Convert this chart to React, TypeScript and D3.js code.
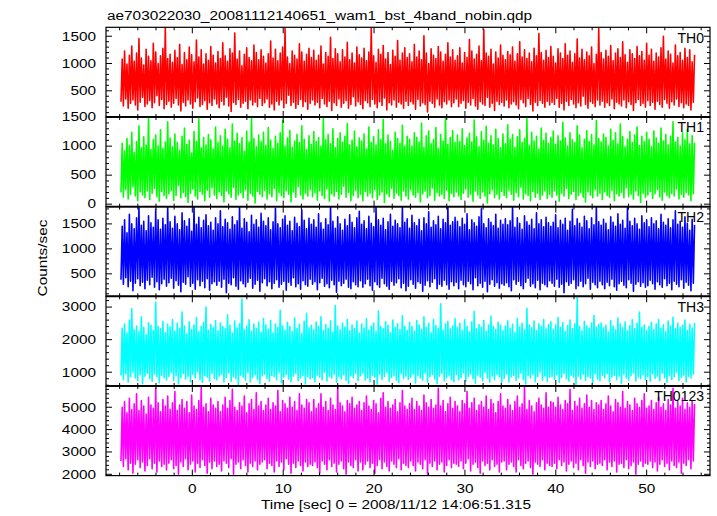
import React from "react";
import * as d3 from "d3";

const TITLE = "ae703022030_20081112140651_wam1_bst_4band_nobin.qdp";
const X_LABEL = "Time [sec] 0 = 2008/11/12 14:06:51.315";
const Y_LABEL = "Counts/sec";
const X_DOMAIN = [-9.5, 56.97];
const X_TICK_LABELS = [0, 10, 20, 30, 40, 50];
const T_START = -7.85;
const T_END = 55.4;
const BAND_NAMES = ["TH0", "TH1", "TH2", "TH3", "TH0123"];
const BAND_COLORS = ["#ff0000", "#00ff00", "#0000ff", "#00ffff", "#ff00ff"];
const Y_DOMAINS = [[20, 1664], [-42, 1503], [50, 1846], [578, 3332], [1942, 5954]];
const Y_TICK_LABELS = [[500, 1000, 1500], [0, 500, 1000, 1500], [500, 1000, 1500], [1000, 2000, 3000], [2000, 3000, 4000, 5000]];
const Y_MAJOR = [500, 500, 500, 1000, 1000];
const Y_MINOR = [100, 100, 100, 200, 200];

// Upper / lower excursions of each light curve per time bin
const TH0_HI = [
  1080, 1230, 990, 1150, 1320, 1040, 1190, 1460, 1100, 970, 1260, 1130, 1050, 1370, 1210, 1000, 1140, 1280, 1660, 1090,
  1170, 1020, 1240, 1110, 1350, 980, 1200, 1070, 1300, 1160, 1030, 1430, 1120, 1250, 990, 1180, 1060, 1310, 1150, 1010,
  1220, 1090, 1380, 1140, 1040, 1270, 1190, 1560, 1080, 1230, 960, 1170, 1290, 1110, 1050, 1340, 1200, 1070, 1250, 1130,
  1010, 1180, 1410, 1100, 1260, 1050, 1190, 1300, 1640, 1120, 1000, 1230, 1150, 1080, 1360, 1210, 1040, 1170, 1280, 1110,
  1240, 1060, 1150, 1320, 990, 1200, 1130, 1480, 1090, 1270, 1180, 1030, 1250, 1120, 1390, 1070, 1190, 1010, 1300, 1160,
  1100, 1280, 1050, 1210, 1650, 1140, 1020, 1260, 1170, 1330, 1080, 1200, 980, 1240, 1130, 1420, 1060, 1190, 1290, 1110,
  1180, 1030, 1350, 1120, 1230, 1070, 1510, 1190, 1000, 1270, 1150, 1090, 1310, 1210, 1040, 1170, 1380, 1120, 1250, 1060,
  1140, 1290, 1010, 1200, 1110, 1440, 1230, 1080, 1170, 1320, 1050, 1620, 1190, 1130, 1260, 990, 1210, 1100, 1340, 1150,
  1070, 1220, 1160, 1300, 1040, 1180, 1400, 1120, 1250, 1090, 1190, 1030, 1280, 1140, 1550, 1200, 1060, 1240, 1110, 1310,
  1130, 1010, 1270, 1190, 1090, 1360, 1150, 1230, 1020, 1180, 1450, 1100, 1260, 1070, 1210, 1140, 1300, 1000, 1170, 1640,
  1200, 1080, 1240, 1130, 1330, 1050, 1190, 1270, 1110, 1400, 1160, 1020, 1250, 1180, 1090, 1310, 1140, 1220, 1060, 1370,
  1150, 1260, 1040, 1190, 1120, 1290, 1500, 1080, 1230, 1170, 1010, 1340, 1140, 1200, 1060, 1280, 1110, 1250, 1030, 1160,
];
const TH0_LO = [
  300, 220, 350, 180, 270, 330, 240, 150, 290, 380, 210, 260, 320, 190, 280, 410, 230, 340, 170, 250,
  310, 200, 270, 360, 240, 130, 290, 220, 330, 260, 180, 300, 370, 210, 250, 320, 160, 280, 230, 350,
  260, 190, 310, 240, 380, 220, 120, 290, 250, 340, 200, 270, 310, 170, 330, 240, 290, 210, 360, 230,
  280, 350, 200, 260, 150, 310, 240, 330, 190, 270, 420, 230, 290, 180, 250, 340, 210, 300, 160, 270,
  330, 240, 290, 190, 360, 260, 210, 310, 140, 280, 230, 350, 200, 270, 320, 180, 250, 390, 220, 300,
  250, 170, 320, 280, 210, 340, 260, 190, 300, 230, 370, 150, 280, 240, 330, 200, 290, 260, 180, 310,
  230, 300, 260, 160, 340, 220, 280, 250, 110, 310, 270, 200, 350, 240, 190, 300, 260, 330, 210, 280,
  350, 210, 270, 320, 180, 290, 240, 360, 220, 160, 300, 260, 230, 380, 200, 270, 140, 310, 250, 290,
  220, 330, 190, 260, 300, 240, 170, 340, 280, 210, 360, 250, 130, 290, 230, 320, 270, 200, 310, 240,
  290, 250, 360, 200, 270, 150, 310, 230, 340, 260, 190, 280, 220, 400, 250, 180, 300, 270, 210, 330,
  240, 310, 200, 280, 230, 350, 170, 290, 260, 220, 330, 190, 300, 250, 140, 280, 340, 230, 270, 200,
  320, 230, 290, 160, 310, 250, 200, 340, 270, 180, 300, 240, 350, 210, 280, 190, 260, 230, 150, 290,
];

const TH1_HI = [
  1050, 920, 1130, 1010, 1240, 890, 1080, 1350, 970, 1160, 1020, 1500, 940, 1110, 1190, 1000, 1280, 960, 1070, 1420,
  1140, 990, 1210, 1060, 930, 1170, 1310, 1030, 1100, 880, 1250, 1080, 1470, 970, 1150, 1020, 1200, 1110, 950, 1330,
  1060, 1180, 1000, 1290, 1120, 970, 1380, 1090, 1220, 1040, 1150, 910, 1260, 1070, 1500, 1130, 990, 1190, 1080, 1240,
  1010, 1320, 1100, 960, 1170, 1050, 1230, 1440, 1000, 1140, 1270, 980, 1090, 1200, 1060, 1350, 1120, 940, 1180, 1030,
  1250, 1080, 1150, 1000, 1490, 1110, 1200, 1040, 1300, 970, 1130, 1230, 1070, 1170, 1390, 1020, 1100, 1260, 990, 1140,
  1090, 1210, 950, 1330, 1060, 1160, 1020, 1280, 1110, 1460, 1040, 1190, 1080, 930, 1240, 1130, 1050, 1360, 1000, 1170,
  1120, 1000, 1230, 1150, 1070, 1400, 980, 1180, 1260, 1040, 1110, 1320, 960, 1200, 1090, 1500, 1030, 1150, 1270, 1060,
  1190, 1080, 1300, 1010, 1140, 1220, 1070, 1450, 1160, 990, 1250, 1100, 1340, 1050, 1180, 1020, 1290, 1130, 970, 1210,
  1040, 1370, 1120, 1200, 980, 1160, 1280, 1060, 1130, 1480, 1010, 1240, 1090, 1170, 950, 1310, 1100, 1220, 1050, 1150,
  1260, 1030, 1180, 1090, 1410, 1140, 1000, 1230, 1110, 1060, 1350, 1190, 970, 1120, 1270, 1080, 1200, 1020, 1440, 1130,
  1070, 1210, 1150, 1000, 1290, 1100, 1230, 1040, 1380, 1160, 990, 1120, 1250, 1060, 1190, 1330, 1010, 1170, 1080, 1240,
  1120, 990, 1260, 1140, 1050, 1310, 1090, 1200, 1020, 1170, 1420, 1070, 1150, 1000, 1230, 1110, 1290, 1040, 1180, 1060,
];
const TH1_LO = [
  200, 120, 250, 90, 170, 300, 140, 60, 210, 160, 110, 230, 80, 190, 270, 130, 50, 220, 150, 100,
  180, 240, 70, 150, 320, 110, 200, 130, 30, 190, 260, 140, 90, 220, 170, 60, 240, 120, 280, 160,
  100, 210, 150, 40, 230, 180, 120, 290, 80, 160, 200, 110, 250, 70, 190, 140, 20, 220, 170, 130,
  240, 90, 180, 130, 270, 60, 200, 150, 110, 230, 170, 40, 210, 120, 300, 160, 90, 190, 140, 250,
  130, 200, 70, 230, 150, 100, 260, 50, 180, 140, 220, 90, 170, 310, 120, 200, 60, 150, 240, 110,
  170, 60, 220, 140, 190, 110, 250, 80, 160, 210, 30, 180, 130, 270, 100, 190, 150, 70, 230, 140,
  90, 250, 160, 120, 200, 40, 180, 230, 110, 150, 280, 70, 200, 140, 170, 100, 240, 60, 190, 130,
  210, 140, 80, 190, 260, 120, 170, 50, 230, 160, 100, 210, 140, 20, 180, 250, 110, 170, 90, 220,
  150, 110, 240, 170, 70, 200, 130, 290, 90, 180, 150, 60, 220, 120, 190, 80, 160, 230, 100, 170,
  120, 230, 160, 50, 190, 140, 270, 100, 170, 220, 80, 150, 200, 120, 40, 210, 160, 110, 250, 140,
  190, 80, 210, 150, 120, 240, 60, 180, 140, 200, 110, 280, 130, 170, 90, 230, 150, 30, 190, 120,
  160, 220, 100, 180, 250, 130, 70, 210, 150, 110, 190, 140, 260, 90, 170, 120, 200, 160, 60, 180,
];

const TH2_HI = [
  1450, 1580, 1320, 1690, 1500, 1400, 1620, 1840, 1470, 1550, 1360, 1660, 1520, 1430, 1790, 1580, 1390, 1610, 1480, 1850,
  1540, 1410, 1650, 1500, 1380, 1720, 1560, 1450, 1600, 1350, 1850, 1490, 1630, 1420, 1570, 1680, 1460, 1530, 1370, 1620,
  1500, 1760, 1440, 1590, 1520, 1390, 1640, 1480, 1560, 1850, 1410, 1600, 1530, 1340, 1670, 1490, 1580, 1430, 1710, 1550,
  1460, 1620, 1380, 1540, 1810, 1500, 1420, 1590, 1660, 1470, 1550, 1360, 1630, 1510, 1440, 1780, 1570, 1400, 1610, 1490,
  1580, 1430, 1700, 1520, 1390, 1600, 1480, 1850, 1550, 1410, 1640, 1500, 1370, 1590, 1460, 1680, 1530, 1420, 1620, 1750,
  1490, 1560, 1400, 1650, 1510, 1440, 1830, 1580, 1470, 1610, 1380, 1540, 1690, 1450, 1570, 1500, 1420, 1850, 1530, 1600,
  1410, 1670, 1520, 1460, 1590, 1360, 1620, 1500, 1740, 1430, 1560, 1480, 1650, 1400, 1590, 1520, 1850, 1470, 1540, 1630,
  1550, 1440, 1610, 1490, 1700, 1380, 1580, 1520, 1450, 1640, 1800, 1500, 1420, 1600, 1530, 1460, 1690, 1410, 1570, 1490,
  1600, 1480, 1560, 1850, 1430, 1620, 1510, 1390, 1660, 1540, 1470, 1590, 1400, 1720, 1500, 1580, 1440, 1630, 1520, 1450,
  1530, 1680, 1420, 1570, 1490, 1610, 1370, 1550, 1790, 1460, 1600, 1510, 1430, 1650, 1560, 1400, 1620, 1480, 1850, 1540,
  1470, 1590, 1510, 1380, 1640, 1530, 1450, 1700, 1490, 1570, 1410, 1830, 1550, 1460, 1610, 1500, 1390, 1660, 1520, 1580,
  1440, 1620, 1500, 1560, 1400, 1690, 1530, 1470, 1600, 1420, 1580, 1760, 1490, 1550, 1430, 1640, 1510, 1370, 1590, 1480,
];
const TH2_LO = [
  380, 290, 420, 240, 350, 160, 310, 400, 260, 330, 200, 370, 280, 430, 230, 340, 180, 300, 390, 250,
  320, 410, 210, 360, 270, 140, 330, 290, 440, 250, 310, 190, 380, 260, 350, 220, 400, 170, 300, 340,
  270, 350, 230, 390, 120, 310, 280, 420, 250, 190, 360, 300, 240, 330, 410, 210, 290, 370, 150, 320,
  400, 260, 340, 200, 310, 380, 230, 290, 350, 170, 330, 270, 420, 240, 300, 190, 360, 280, 250, 390,
  290, 340, 180, 320, 410, 250, 300, 220, 370, 280, 130, 350, 260, 310, 390, 230, 200, 340, 280, 240,
  360, 230, 300, 390, 260, 170, 340, 280, 230, 410, 300, 250, 190, 350, 270, 320, 400, 220, 310, 160,
  250, 380, 290, 210, 340, 310, 150, 270, 360, 240, 330, 400, 200, 290, 250, 370, 280, 190, 340, 260,
  330, 200, 370, 280, 240, 350, 300, 180, 420, 260, 310, 230, 350, 140, 290, 380, 250, 320, 210, 300,
  270, 320, 240, 160, 380, 290, 350, 260, 200, 330, 410, 250, 300, 220, 370, 180, 310, 280, 240, 360,
  310, 250, 390, 230, 290, 120, 340, 270, 310, 380, 200, 260, 350, 240, 300, 410, 190, 330, 280, 220,
  350, 280, 200, 330, 260, 390, 240, 170, 300, 350, 270, 220, 380, 310, 150, 290, 340, 250, 320, 230,
  260, 370, 300, 190, 340, 280, 230, 400, 260, 310, 180, 350, 290, 240, 380, 210, 330, 270, 160, 310,
];

const TH3_HI = [
  2350, 2480, 2200, 2600, 2950, 2300, 2420, 2250, 2700, 2380, 2150, 2520, 2440, 2280, 3150, 2400, 2330, 2560, 2210, 2470,
  2390, 2620, 2260, 2500, 2340, 2850, 2420, 2180, 2550, 2310, 2450, 2680, 2240, 2400, 2530, 3000, 2290, 2460, 2370, 2580,
  2270, 2510, 2400, 2330, 2760, 2440, 2200, 2570, 2360, 2490, 3250, 2300, 2420, 2610, 2260, 2480, 2350, 2540, 2230, 2650,
  2450, 2320, 2590, 2210, 2480, 2380, 2900, 2420, 2290, 2530, 2400, 2250, 2660, 2340, 2470, 2190, 2560, 2800, 2360, 2440,
  2310, 2540, 2400, 2700, 2280, 2460, 2350, 2580, 2230, 3050, 2420, 2300, 2510, 2390, 2620, 2270, 2450, 2340, 2570, 2200,
  2480, 2360, 2640, 2290, 2420, 2510, 2250, 2880, 2400, 2330, 2550, 2440, 2220, 2600, 2370, 2490, 2310, 2730, 2410, 2280,
  2530, 2400, 2260, 2590, 2450, 2320, 2700, 2380, 2500, 2210, 2620, 2430, 2350, 3100, 2290, 2480, 2560, 2330, 2420, 2640,
  2370, 2500, 2290, 2610, 2410, 2240, 2550, 2860, 2330, 2460, 2380, 2590, 2260, 2450, 2720, 2400, 2310, 2530, 2440, 2280,
  2420, 2580, 2340, 2470, 2210, 2650, 2390, 2500, 2300, 2960, 2450, 2360, 2570, 2280, 2490, 2410, 2620, 2330, 2460, 2550,
  2300, 2450, 2680, 2380, 2520, 2250, 2430, 2600, 2340, 2490, 3300, 2400, 2270, 2560, 2420, 2350, 2510, 2740, 2390, 2460,
  2510, 2370, 2440, 2230, 2590, 2420, 2300, 2660, 2480, 2360, 2540, 2270, 2430, 2610, 2340, 2500, 2850, 2380, 2450, 2290,
  2400, 2530, 2310, 2480, 2620, 2350, 2460, 2240, 2570, 2420, 2690, 2330, 2500, 2380, 2440, 2600, 2290, 2470, 2360, 2520,
];
const TH3_LO = [
  900, 780, 950, 700, 860, 1000, 820, 740, 920, 650, 880, 970, 800, 720, 940, 860, 680, 910, 830, 760,
  870, 990, 750, 900, 640, 830, 960, 790, 880, 710, 940, 820, 1010, 770, 690, 900, 850, 730, 960, 810,
  760, 880, 930, 700, 840, 980, 720, 870, 800, 620, 910, 850, 760, 990, 700, 830, 920, 780, 650, 890,
  940, 810, 720, 900, 860, 760, 990, 680, 850, 930, 790, 710, 880, 960, 740, 820, 900, 640, 870, 800,
  830, 700, 910, 850, 770, 1000, 730, 880, 820, 940, 690, 860, 790, 920, 750, 660, 890, 830, 970, 740,
  890, 960, 760, 820, 710, 900, 850, 630, 930, 780, 870, 990, 720, 840, 900, 760, 680, 950, 810, 880,
  780, 850, 940, 670, 890, 820, 760, 980, 700, 860, 930, 790, 650, 880, 960, 740, 830, 900, 770, 710,
  920, 760, 830, 980, 720, 870, 940, 800, 660, 910, 850, 740, 990, 820, 700, 880, 770, 930, 860, 690,
  810, 940, 700, 860, 900, 750, 830, 970, 780, 640, 890, 820, 930, 710, 860, 1000, 760, 880, 720, 850,
  870, 780, 920, 690, 840, 960, 800, 730, 910, 850, 620, 880, 790, 940, 750, 870, 820, 680, 950, 790,
  740, 900, 830, 960, 700, 850, 910, 770, 880, 660, 940, 820, 750, 890, 980, 730, 860, 800, 920, 770,
  860, 720, 950, 810, 880, 740, 970, 830, 690, 900, 780, 860, 1000, 750, 840, 910, 700, 870, 820, 940,
];

const TH0123_HI = [
  5000, 5250, 4750, 5400, 4900, 5150, 5600, 4850, 5300, 5050, 4700, 5450, 5100, 4950, 5850, 5200, 4800, 5350, 5050, 5500,
  4900, 5200, 5700, 4850, 5100, 5350, 4950, 5250, 4750, 5550, 5050, 4900, 5300, 5900, 5000, 5150, 4800, 5400, 5100, 4950,
  5250, 4800, 5100, 5450, 4950, 5300, 5800, 5000, 4850, 5200, 5050, 5500, 4750, 5150, 5350, 4900, 5650, 5050, 5250, 4850,
  5100, 5400, 4900, 5200, 5050, 5750, 4800, 5300, 5150, 4950, 5450, 5000, 5250, 4850, 5600, 5100, 4950, 5350, 5200, 4800,
  5350, 4950, 5150, 5600, 5000, 5250, 4850, 5400, 5100, 4900, 5900, 5200, 5050, 4800, 5300, 5150, 5450, 4950, 5100, 5250,
  4850, 5200, 5500, 5050, 4900, 5300, 5150, 4750, 5400, 5650, 5000, 5250, 4950, 5100, 5350, 4800, 5200, 5750, 5050, 4900,
  5150, 5400, 4900, 5250, 5050, 4850, 5550, 5200, 5000, 5350, 4950, 5100, 5850, 5050, 5300, 4800, 5150, 5450, 4950, 5250,
  5050, 4800, 5300, 5150, 5700, 4950, 5200, 5400, 4850, 5100, 5250, 5000, 5500, 4900, 5350, 5150, 4750, 5250, 5600, 5050,
  4950, 5350, 5100, 4850, 5250, 5500, 5000, 5150, 5900, 4900, 5300, 5050, 4800, 5200, 5400, 5100, 4950, 5650, 5000, 5250,
  5200, 5000, 5450, 5100, 4900, 5300, 5150, 5800, 4850, 5250, 5050, 5400, 4950, 5150, 5550, 5000, 5300, 4900, 5200, 5100,
  5300, 4900, 5150, 5500, 5050, 4800, 5350, 5200, 5000, 5700, 4950, 5250, 5100, 4850, 5400, 5150, 5000, 5300, 5600, 4950,
  5050, 5300, 4900, 5200, 5450, 5000, 5150, 4850, 5350, 5100, 5850, 4950, 5250, 5050, 5400, 4900, 5200, 5000, 5300, 5150,
];
const TH0123_LO = [
  2600, 2350, 2700, 2200, 2500, 2050, 2450, 2650, 2300, 2550, 2150, 2400, 2700, 2250, 2500, 2100, 2600, 2350, 2450, 2200,
  2500, 2650, 2250, 2400, 2000, 2550, 2350, 2700, 2200, 2450, 2600, 2100, 2500, 2300, 2650, 2400, 2050, 2550, 2250, 2600,
  2350, 2450, 2150, 2600, 2500, 2300, 2700, 2000, 2450, 2550, 2250, 2650, 2400, 2100, 2500, 2350, 2600, 2200, 2450, 2550,
  2650, 2250, 2500, 2400, 2100, 2600, 2350, 2550, 2200, 2700, 2450, 2050, 2500, 2300, 2600, 2400, 2150, 2550, 2350, 2450,
  2400, 2550, 2300, 2050, 2600, 2450, 2200, 2650, 2350, 2500, 2100, 2450, 2600, 2250, 2000, 2550, 2400, 2300, 2650, 2150,
  2550, 2200, 2450, 2600, 2300, 2500, 2050, 2400, 2650, 2250, 2550, 2350, 2150, 2600, 2450, 2300, 2700, 2200, 2500, 2400,
  2300, 2600, 2400, 2150, 2550, 2450, 2250, 2650, 2000, 2500, 2350, 2600, 2200, 2450, 2550, 2100, 2400, 2650, 2300, 2500,
  2450, 2350, 2600, 2250, 2500, 2700, 2150, 2450, 2550, 2300, 2050, 2600, 2400, 2500, 2200, 2650, 2350, 2450, 2100, 2550,
  2600, 2200, 2450, 2550, 2350, 2100, 2650, 2400, 2250, 2500, 2600, 2300, 2000, 2550, 2450, 2350, 2650, 2200, 2500, 2400,
  2350, 2500, 2250, 2650, 2400, 2550, 2150, 2450, 2600, 2300, 2500, 2200, 2650, 2400, 2050, 2550, 2350, 2600, 2250, 2450,
  2500, 2400, 2650, 2200, 2550, 2350, 2600, 2100, 2450, 2500, 2300, 2650, 2250, 2400, 2550, 2000, 2450, 2600, 2350, 2500,
  2450, 2600, 2300, 2550, 2150, 2450, 2650, 2350, 2500, 2200, 2600, 2400, 2300, 2550, 2050, 2500, 2400, 2650, 2250, 2600,
];

const SERIES_HI = [TH0_HI, TH1_HI, TH2_HI, TH3_HI, TH0123_HI];
const SERIES_LO = [TH0_LO, TH1_LO, TH2_LO, TH3_LO, TH0123_LO];

const W = 717;
const H = 516;
const LEFT = 106;
const RIGHT = 710;
const TOP = 27.3;
const BOTTOM = 475.6;
const FONT = "'Liberation Sans', Arial, Helvetica, sans-serif";
const SX = 1.28;

function T({ x, y, children, anchor = "start", size = 12, sx = SX, rotate = 0 }: any) {
  const tr = rotate ? `translate(${x},${y}) rotate(${rotate}) scale(${sx},1)` : `translate(${x},${y}) scale(${sx},1)`;
  return (
    <text transform={tr} textAnchor={anchor} fontFamily={FONT} fontSize={size} fill="#000">
      {children}
    </text>
  );
}

export default function App() {
  const x = d3.scaleLinear().domain(X_DOMAIN).range([LEFT, RIGHT]);
  const nPanels = SERIES_HI.length;
  const ph = (BOTTOM - TOP) / nPanels;
  const xMinor = d3.range(-8, 57, 2);

  return (
    <svg width={W} height={H} style={{ position: "absolute", left: 0, top: 0, background: "#fff" }}>
      <rect x={0} y={0} width={W} height={H} fill="#fff" />
      <T x={107} y={20}>{TITLE}</T>
      {SERIES_HI.map((hi, k) => {
        const lo = SERIES_LO[k];
        const top = TOP + k * ph;
        const bot = top + ph;
        const [d0, d1] = Y_DOMAINS[k];
        const y = d3.scaleLinear().domain([d0, d1]).range([bot, top]);
        const n = hi.length;
        const dt = (T_END - T_START) / n;
        // light curve samples: alternating low and high excursions within each bin
        const pts: [number, number][] = [];
        for (let i = 0; i < n; i++) {
          pts.push([T_START + i * dt, lo[i]]);
          pts.push([T_START + (i + 0.5) * dt, hi[i]]);
        }
        const line = d3
          .line<[number, number]>()
          .x((d) => x(d[0]))
          .y((d) => y(d[1]));
        const minor = Y_MINOR[k];
        const major = Y_MAJOR[k];
        const yTicks = d3.range(Math.ceil(d0 / minor) * minor, d1 + 0.001, minor);
        const clipId = `clip${k}`;
        return (
          <g key={k}>
            <clipPath id={clipId}>
              <rect x={LEFT} y={top} width={RIGHT - LEFT} height={ph} />
            </clipPath>
            <path
              d={line(pts) || ""}
              fill="none"
              stroke={BAND_COLORS[k]}
              strokeWidth={1.6}
              strokeLinejoin="round"
              clipPath={`url(#${clipId})`}
            />
            {yTicks.map((v) => {
              const len = Math.abs(v % major) < 1e-6 ? 6 : 3;
              const yy = y(v);
              return (
                <g key={v}>
                  <line x1={LEFT} x2={LEFT + len} y1={yy} y2={yy} stroke="#000" strokeWidth={1} />
                  <line x1={RIGHT} x2={RIGHT - len} y1={yy} y2={yy} stroke="#000" strokeWidth={1} />
                </g>
              );
            })}
            {xMinor.map((v) => {
              const len = v % 10 === 0 ? 6 : 3;
              const xx = x(v);
              return (
                <g key={v}>
                  <line x1={xx} x2={xx} y1={top} y2={top + len} stroke="#000" strokeWidth={1} />
                  <line x1={xx} x2={xx} y1={bot} y2={bot - len} stroke="#000" strokeWidth={1} />
                </g>
              );
            })}
            {Y_TICK_LABELS[k].map((v) => (
              <T key={v} x={96} y={y(v) + 4.3} anchor="end">{String(v)}</T>
            ))}
            <T x={704} y={top + 15.5} anchor="end" size={14} sx={1}>{BAND_NAMES[k]}</T>
            <rect x={LEFT} y={top} width={RIGHT - LEFT} height={ph} fill="none" stroke="#000" strokeWidth={1.2} />
          </g>
        );
      })}
      {SERIES_HI.slice(1).map((_, k) => (
        <line key={k} x1={LEFT} x2={RIGHT} y1={TOP + (k + 1) * ph} y2={TOP + (k + 1) * ph} stroke="#000" strokeWidth={1.8} />
      ))}
      {X_TICK_LABELS.map((v) => (
        <T key={v} x={x(v)} y={492.7} anchor="middle">{String(v)}</T>
      ))}
      <T x={261} y={508.6}>{X_LABEL}</T>
      <T x={46.5} y={258} anchor="middle" rotate={-90}>{Y_LABEL}</T>
    </svg>
  );
}
